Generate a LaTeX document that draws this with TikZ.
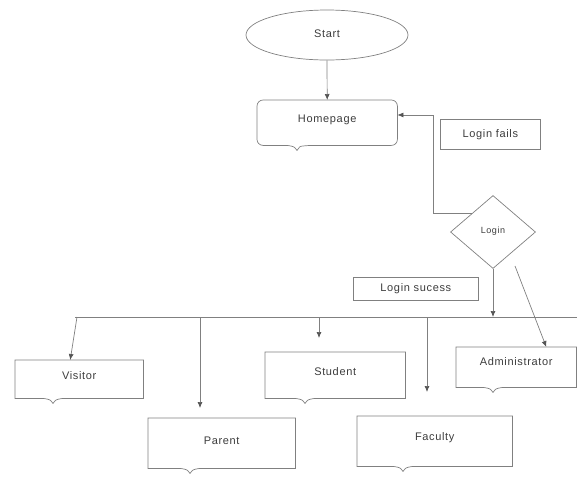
\documentclass[tikz,border=0pt]{standalone}
\usepackage{fontspec}
\setmainfont{Liberation Sans}[LetterSpace=6]
\usetikzlibrary{shapes.geometric,arrows.meta,calc}
\definecolor{linegray}{HTML}{808080}
\definecolor{txtgray}{HTML}{3C3C3C}
\definecolor{tipgray}{HTML}{555555}
\begin{document}
\begin{tikzpicture}[x=1pt,y=-1pt,
  every node/.style={font=\fontsize{11}{13}\selectfont, text=txtgray},
  boxline/.style={draw=linegray, line width=0.7pt},
  arr/.style={boxline, -{Latex[length=6pt,width=5pt,color=tipgray]}},
  docbox/.style={draw=none, rectangle, inner sep=0pt, anchor=north west},
  lblbox/.style={draw=linegray, line width=0.7pt, rectangle, inner sep=0pt, anchor=north west}
]
\useasboundingbox (0,0) rectangle (577,491);

% nodes
\node[ellipse, boxline, minimum width=162pt, minimum height=50pt, inner sep=0pt] (start) at (327,35) {\raisebox{3pt}{Start}};
\node[docbox, minimum width=140pt, text height=22pt, text depth=23pt] (home) at (257,100) {Homepage};
\node[lblbox, minimum width=100pt, minimum height=30pt] (fails) at (440,119) {Login fails};
\node[diamond, boxline, minimum width=85pt, minimum height=73pt, inner sep=0pt, font=\fontsize{9}{11}\selectfont] (login) at (493,232) {\raisebox{3pt}{Login}};
\node[lblbox, minimum width=125pt, minimum height=23pt] (succ) at (353,277) {Login sucess};

\node[docbox, minimum width=128pt, text height=19pt, text depth=19pt] (visitor) at (15,360) {Visitor};
\node[docbox, minimum width=140pt, text height=23pt, text depth=23pt] (student) at (265,352) {Student};
\node[docbox, minimum width=147pt, text height=26pt, text depth=24pt] (parent) at (148,418) {Parent};
\node[docbox, minimum width=155pt, text height=24pt, text depth=26pt] (faculty) at (357,416) {Faculty};
\node[docbox, minimum width=120pt, text height=18pt, text depth=22pt] (admin) at (456,347) {Administrator};

% document-style outlines
\draw[boxline, rounded corners=6pt] let \p1=(home.south west), \p2=(home.north east) in
  ({287pt},\y1) -- (\p1) -- (\x1,\y2) -- (\p2) -- (\x2,\y1) -- ({307pt},\y1)
  [sharp corners] .. controls ({300pt},{\y1-1pt}) .. ({297pt},{\y1-5pt})
  .. controls ({294pt},{\y1-1pt}) .. ({287pt},\y1);
\foreach \bx/\nx in {visitor/53, student/305, parent/190, faculty/403, admin/493}{
  \draw[boxline] let \p1=(\bx.south west), \p2=(\bx.north east) in
    ({\nx pt-10pt},\y1) -- (\p1) -- (\x1,\y2) -- (\p2) -- (\x2,\y1) -- ({\nx pt+10pt},\y1)
    .. controls ({\nx pt+3pt},{\y1-1pt}) .. ({\nx pt},{\y1-5pt})
    .. controls ({\nx pt-3pt},{\y1-1pt}) .. ({\nx pt-10pt},\y1);
}

% connectors
\draw[arr] (start.south) -- (home.north);
\coordinate (fx) at (433,0);
\coordinate (hin) at ($(home.north east)!0.33!(home.south east)$);
\draw[arr] (login.north west) -- (login.north west -| fx) |- (hin);

\coordinate (busL) at (75,317);
\coordinate (busR) at (577,317);
\draw[boxline] (busL) -- (busR);
\draw[arr] (login.south) -- (login.south |- busL);
\coordinate (ds) at (515,266);
\draw[arr] (ds) -- ($(admin.north west)!0.75!(admin.north east)$);

\coordinate (vb) at (77,317);
\draw[arr] (vb) -- ($(visitor.north west)!0.43!(visitor.north east)$);
\coordinate (pb) at (200,317);
\coordinate (pe) at (200,408);
\draw[arr] (pb) -- (pe);
\coordinate (sb) at (319,317);
\coordinate (se) at (319,338);
\draw[arr] (sb) -- (se);
\coordinate (fb) at (427,317);
\coordinate (fe) at (427,392);
\draw[arr] (fb) -- (fe);
\end{tikzpicture}
\end{document}
